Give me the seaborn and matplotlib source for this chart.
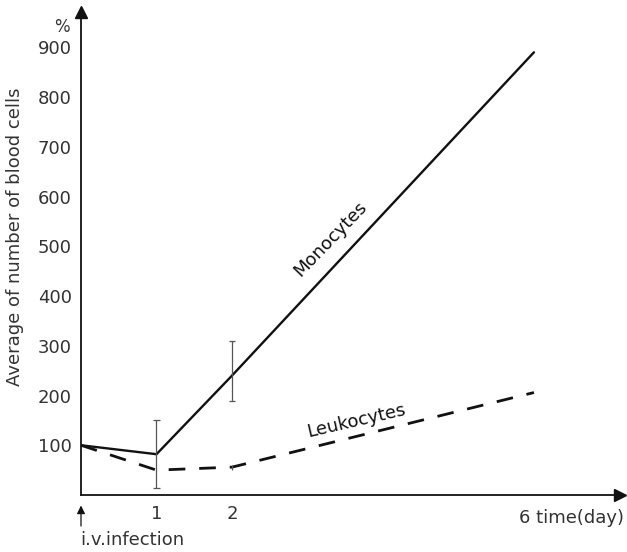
import matplotlib
matplotlib.use("Agg")
import matplotlib.pyplot as plt
import seaborn as sns
import pandas as pd

# Time after i.v. infection (days) and average blood cell counts (% of initial)
days = [0, 1, 2, 6]
monocytes = [100, 82, 240, 890]
leukocytes = [100, 50, 56, 206]

# Spread of the monocyte counts at days 1 and 2, and of leukocytes at day 2
err_days = [1, 2]
mono_low = [14, 188]
mono_high = [150, 310]
leuko_err_day = [2]
leuko_low = [51]
leuko_high = [61]

y_ticks = [100, 200, 300, 400, 500, 600, 700, 800, 900]
x_ticks = [1, 2]

sns.set_style("white")
plt.rcParams["font.family"] = ["DejaVu Sans"]

df = pd.DataFrame({
    "day": days * 2,
    "value": monocytes + leukocytes,
    "cells": ["Monocytes"] * len(days) + ["Leukocytes"] * len(days),
})

text_col = "#333333"
ink = "#111111"

fig = plt.figure(figsize=(6.27, 5.52), dpi=100)
ax = fig.add_axes([81 / 627, 57 / 552, (620 - 81) / 627, (540 - 57) / 552])

sns.lineplot(data=df[df.cells == "Monocytes"], x="day", y="value", ax=ax,
             color=ink, lw=1.7, legend=False)
sns.lineplot(data=df[df.cells == "Leukocytes"], x="day", y="value", ax=ax,
             color=ink, lw=2.0, legend=False)
ax.lines[-1].set_dashes([6, 5])

cap = 0.04
ax.vlines(err_days, mono_low, mono_high, color="#555555", lw=0.9)
ax.hlines(mono_low + mono_high, [d - cap for d in err_days * 2],
          [d + cap for d in err_days * 2], color="#555555", lw=0.9)
ax.vlines(leuko_err_day, leuko_low, leuko_high, color="#555555", lw=0.9)

ax.set_xlim(0, 7.14)
ax.set_ylim(0, 971)

sns.despine(ax=ax)
for side in ("left", "bottom"):
    ax.spines[side].set_color(ink)
    ax.spines[side].set_linewidth(1.3)

# arrow heads at the ends of both axes
ax.plot(1, 0, ">", color=ink, ms=9, transform=ax.get_yaxis_transform(), clip_on=False)
ax.plot(0, 1, "^", color=ink, ms=9, transform=ax.get_xaxis_transform(), clip_on=False)

ax.set_yticks(y_ticks)
ax.set_yticklabels([str(v) for v in y_ticks], fontsize=13, color=text_col)
ax.tick_params(axis="y", direction="inout", length=5, width=0.8, pad=4)
ax.set_xticks(x_ticks)
ax.set_xticklabels([str(v) for v in x_ticks], fontsize=13, color=text_col)
ax.tick_params(axis="x", length=0, pad=7)

ax.set_xlabel("")
ax.set_ylabel("Average of number of blood cells", fontsize=13, color=text_col)
ax.yaxis.set_label_coords(-0.105, 0.535)

ax.text(-0.035, 0.988, "%", transform=ax.transAxes, fontsize=12, color=text_col,
        ha="center", va="top")
ax.text(5.8, -0.03, "6 time(day)", transform=ax.get_xaxis_transform(),
        fontsize=13, color=text_col, ha="left", va="top")

# injection marker below the origin
ax.annotate("", xy=(0, -0.016), xytext=(0, -0.07), xycoords=ax.get_xaxis_transform(),
            arrowprops=dict(arrowstyle="-|>", color=ink, lw=0.9, mutation_scale=12),
            annotation_clip=False)
ax.text(-0.006, -0.075, "i.v.infection", transform=ax.get_xaxis_transform(),
        fontsize=13, color=text_col, ha="left", va="top")

ax.text(3.3, 515, "Monocytes", fontsize=13, color=ink, rotation=46,
        ha="center", va="center")
ax.text(3.65, 150, "Leukocytes", fontsize=13, color=ink, rotation=13,
        ha="center", va="center")

fig.savefig("out.png", dpi=100)
